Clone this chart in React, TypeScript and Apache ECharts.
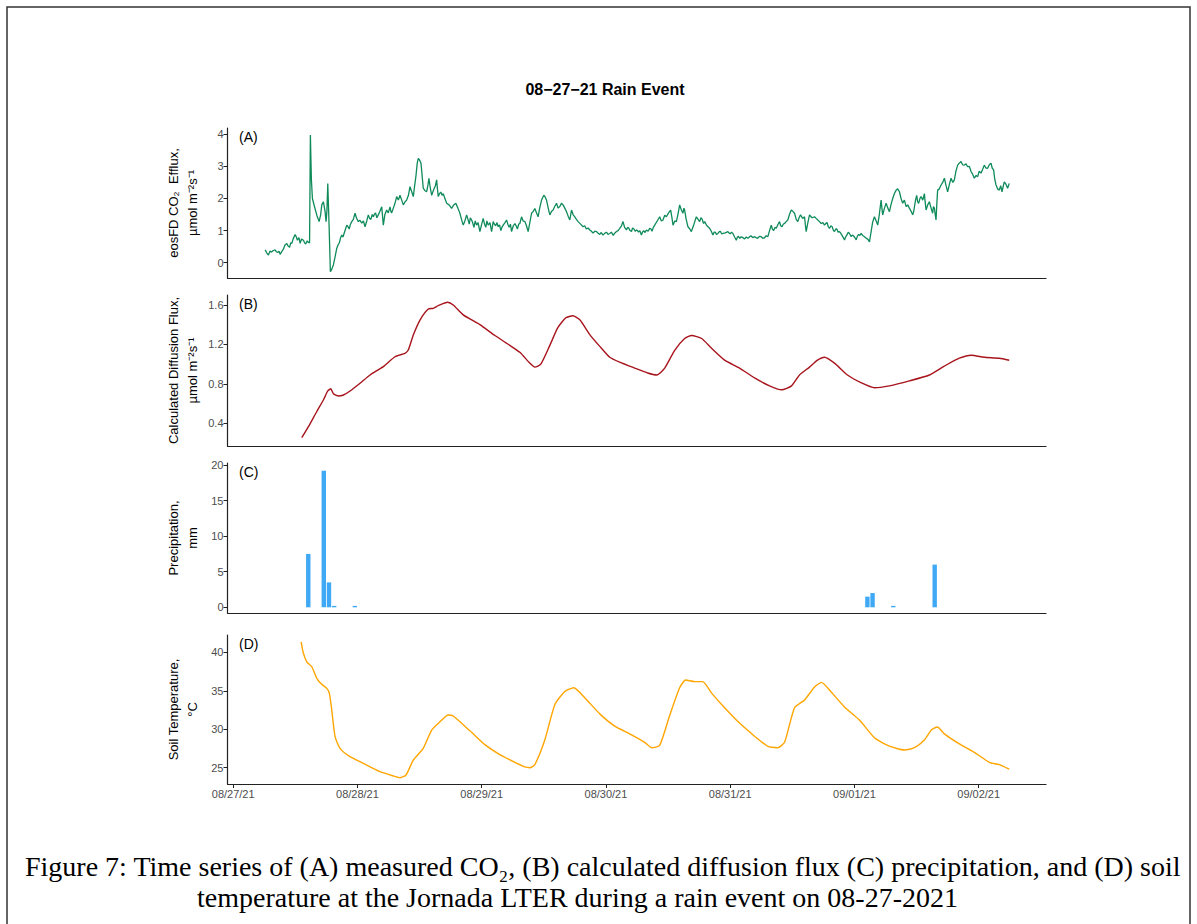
import React, { useEffect, useRef } from "react";
import * as echarts from "echarts";

// Time axis is in hours since 08/27/21 00:00
const dayTicks = [0, 24, 48, 72, 96, 120, 144];
const dayLabels = ["08/27/21", "08/28/21", "08/29/21", "08/30/21", "08/31/21", "09/01/21", "09/02/21"];

// (A) measured eosFD CO2 efflux, µmol m-2 s-1
const co2Efflux: [number, number][] = [
  [6.17, 0.4], [6.5, 0.3], [6.81, 0.24], [7.1, 0.36], [7.4, 0.33], [7.75, 0.38], [8.1, 0.4], [8.35, 0.34], [8.6, 0.32],
  [8.85, 0.36], [9.07, 0.26], [9.4, 0.35], [9.7, 0.42], [10.0, 0.55], [10.36, 0.6], [10.6, 0.52], [10.9, 0.48], [11.1, 0.62],
  [11.32, 0.6], [11.6, 0.75], [11.96, 0.88], [12.2, 0.8], [12.4, 0.7], [12.7, 0.78], [12.93, 0.6], [13.2, 0.74], [13.56, 0.7],
  [13.8, 0.62], [14.0, 0.58], [14.3, 0.68], [14.53, 0.63], [14.75, 0.62], [14.91, 3.98], [15.1, 2.6], [15.3, 2.0], [15.7, 1.75],
  [16.15, 1.48], [16.59, 1.28], [16.9, 1.5], [17.11, 1.8], [17.42, 1.9], [17.75, 1.59], [17.94, 1.28], [18.1, 1.6], [18.27, 2.47],
  [18.52, 1.17], [18.77, -0.28], [19.05, -0.2], [19.35, -0.07], [19.7, 0.2], [20.01, 0.45], [20.25, 0.55], [20.5, 0.62],
  [20.75, 0.78], [20.97, 0.86], [21.2, 0.8], [21.5, 0.95], [21.7, 1.05], [21.94, 1.17], [22.2, 1.12], [22.4, 1.05], [22.65, 1.2],
  [22.9, 1.28], [23.2, 1.35], [23.54, 1.54], [23.8, 1.4], [24.17, 1.28], [24.5, 1.32], [24.83, 1.23], [25.15, 1.3], [25.47, 1.12],
  [25.8, 1.3], [26.1, 1.49], [26.35, 1.38], [26.6, 1.35], [26.85, 1.5], [27.07, 1.43], [27.3, 1.52], [27.5, 1.55], [27.75, 1.4],
  [28.03, 1.49], [28.35, 1.6], [28.69, 1.74], [28.85, 1.45], [29.0, 1.17], [29.3, 1.5], [29.65, 1.64], [29.95, 1.55], [30.29, 1.74],
  [30.45, 1.6], [30.6, 1.55], [30.93, 1.7], [31.25, 1.85], [31.58, 2.06], [31.9, 1.95], [32.22, 2.1], [32.55, 1.95], [32.86, 1.8],
  [33.2, 1.9], [33.51, 1.95], [33.85, 2.1], [34.15, 2.37], [34.5, 2.2], [34.79, 2.06], [35.05, 2.4], [35.3, 2.7], [35.55, 3.1],
  [35.75, 3.25], [36.0, 3.2], [36.27, 3.1], [36.5, 2.7], [36.71, 2.32], [37.0, 2.25], [37.37, 2.21], [37.6, 2.4], [37.81, 2.63],
  [38.05, 2.35], [38.34, 2.1], [38.55, 2.2], [38.8, 2.3], [39.05, 2.4], [39.3, 2.58], [39.45, 2.3], [39.61, 2.06], [39.85, 2.15],
  [40.1, 2.2], [40.35, 2.1], [40.57, 2.15], [40.9, 2.0], [41.23, 1.85], [41.7, 1.8], [42.19, 1.69], [42.6, 1.8], [43.0, 1.85],
  [43.4, 1.7], [43.79, 1.54], [44.1, 1.35], [44.43, 1.17], [44.75, 1.3], [45.09, 1.49], [45.35, 1.35], [45.6, 1.2], [45.8, 1.4],
  [46.05, 1.33], [46.25, 1.25], [46.5, 1.1], [46.75, 1.3], [47.02, 1.17], [47.3, 1.25], [47.65, 0.97], [48.0, 1.2], [48.29, 1.38],
  [48.55, 1.2], [48.8, 1.1], [49.0, 1.3], [49.25, 1.17], [49.6, 1.25], [49.91, 0.97], [50.05, 1.1], [50.22, 1.28], [50.45, 1.2],
  [50.7, 1.15], [50.95, 1.25], [51.18, 1.12], [51.45, 1.18], [51.7, 1.0], [51.9, 1.1], [52.15, 1.17], [52.5, 1.25], [52.8, 1.33],
  [53.05, 1.2], [53.3, 1.1], [53.55, 1.2], [53.77, 0.97], [54.1, 1.15], [54.41, 1.22], [54.65, 1.15], [54.9, 1.05], [55.15, 1.2],
  [55.37, 1.22], [55.7, 1.43], [56.0, 1.3], [56.34, 1.28], [56.65, 1.15], [56.97, 0.97], [57.3, 1.25], [57.63, 1.54], [57.95, 1.6],
  [58.26, 1.69], [58.6, 1.55], [58.9, 1.43], [59.2, 1.7], [59.56, 1.95], [60.0, 2.1], [60.25, 2.05], [60.52, 1.95], [60.85, 1.7],
  [61.16, 1.49], [61.5, 1.6], [61.8, 1.64], [62.1, 1.75], [62.45, 1.85], [62.75, 1.7], [63.09, 1.75], [63.4, 1.85], [63.72, 1.8],
  [64.05, 1.7], [64.38, 1.59], [64.7, 1.45], [65.02, 1.33], [65.35, 1.64], [65.65, 1.5], [65.98, 1.43], [66.3, 1.35], [66.62, 1.28],
  [67.1, 1.2], [67.58, 1.12], [67.9, 1.15], [68.2, 1.05], [68.55, 1.08], [68.88, 1.02], [69.2, 0.98], [69.5, 0.92], [69.85, 0.98],
  [70.17, 0.97], [70.5, 0.92], [70.8, 0.88], [71.1, 0.94], [71.44, 0.86], [71.8, 0.92], [72.1, 0.95], [72.4, 0.88], [72.73, 0.91],
  [73.05, 0.95], [73.4, 0.85], [73.7, 0.92], [74.03, 0.97], [74.35, 1.0], [74.66, 1.07], [75.0, 1.15], [75.3, 1.28], [75.6, 1.1],
  [75.96, 1.02], [76.2, 1.1], [76.4, 1.08], [76.65, 1.0], [76.92, 0.97], [77.15, 1.08], [77.4, 1.05], [77.65, 0.98], [77.89, 1.02],
  [78.1, 1.0], [78.3, 0.95], [78.55, 1.0], [78.85, 0.86], [79.05, 0.95], [79.3, 1.0], [79.55, 0.94], [79.82, 1.02], [80.15, 0.98],
  [80.45, 1.07], [80.7, 1.05], [80.9, 0.98], [81.15, 1.1], [81.42, 1.17], [81.9, 1.3], [82.38, 1.43], [82.7, 1.3], [83.02, 1.33],
  [83.35, 1.48], [83.67, 1.43], [84.1, 1.55], [84.5, 1.64], [84.75, 1.4], [84.95, 1.17], [85.3, 1.3], [85.6, 1.28], [85.9, 1.5],
  [86.24, 1.8], [86.55, 1.65], [86.88, 1.54], [87.05, 1.7], [87.2, 1.64], [87.5, 1.35], [87.84, 1.12], [88.2, 1.05], [88.5, 0.97],
  [89.0, 1.2], [89.46, 1.43], [89.8, 1.35], [90.1, 1.28], [90.35, 1.4], [90.6, 1.35], [90.85, 1.22], [91.06, 1.28], [91.5, 1.15],
  [92.03, 1.07], [92.35, 0.98], [92.66, 0.86], [92.9, 0.95], [93.1, 0.95], [93.35, 0.88], [93.63, 0.91], [93.85, 0.96], [94.1, 0.98],
  [94.35, 0.9], [94.59, 0.91], [95.05, 0.93], [95.56, 0.97], [95.8, 0.92], [96.0, 0.9], [96.25, 0.95], [96.52, 0.91], [96.85, 0.8],
  [97.18, 0.7], [97.4, 0.8], [97.6, 0.82], [97.85, 0.76], [98.14, 0.81], [98.45, 0.78], [98.8, 0.74], [99.1, 0.8], [99.42, 0.76],
  [99.7, 0.8], [100.0, 0.84], [100.35, 0.78], [100.71, 0.81], [101.0, 0.78], [101.3, 0.76], [101.65, 0.82], [102.0, 0.81],
  [102.3, 0.76], [102.6, 0.77], [102.95, 0.84], [103.28, 0.81], [103.6, 1.0], [103.93, 1.17], [104.15, 1.05], [104.4, 1.0],
  [104.65, 1.1], [104.9, 1.07], [105.2, 1.18], [105.53, 1.28], [105.75, 1.15], [106.0, 1.12], [106.25, 1.2], [106.5, 1.22],
  [106.8, 1.28], [107.13, 1.33], [107.45, 1.5], [107.79, 1.64], [108.1, 1.6], [108.43, 1.54], [108.75, 1.35], [109.06, 1.28],
  [109.3, 1.4], [109.58, 1.49], [110.0, 1.38], [110.36, 1.43], [110.5, 1.2], [110.68, 0.97], [111.0, 1.25], [111.32, 1.49],
  [111.8, 1.4], [112.29, 1.43], [112.6, 1.38], [112.92, 1.33], [113.25, 1.28], [113.58, 1.22], [113.9, 1.25], [114.22, 1.17],
  [114.45, 1.22], [114.7, 1.25], [114.95, 1.12], [115.18, 1.07], [115.45, 1.15], [115.7, 1.12], [115.95, 1.0], [116.15, 0.97],
  [116.4, 1.05], [116.6, 1.05], [116.85, 0.95], [117.11, 0.97], [117.35, 0.92], [117.6, 0.85], [117.85, 0.78], [118.08, 0.71],
  [118.3, 0.8], [118.5, 0.85], [118.8, 0.95], [119.04, 0.91], [119.35, 0.82], [119.68, 0.86], [120.0, 0.8], [120.34, 0.71],
  [120.55, 0.82], [120.8, 0.88], [121.05, 0.85], [121.3, 0.91], [121.6, 0.85], [121.93, 0.81], [122.15, 0.78], [122.4, 0.75],
  [122.65, 0.72], [122.9, 0.65], [123.05, 0.8], [123.22, 0.97], [123.5, 1.25], [123.86, 1.43], [124.2, 1.3], [124.5, 1.17],
  [124.8, 1.5], [125.15, 1.95], [125.3, 1.7], [125.46, 1.49], [125.8, 1.7], [126.12, 1.85], [126.45, 1.7], [126.76, 1.59],
  [127.05, 1.8], [127.39, 2.0], [127.7, 2.15], [128.05, 2.26], [128.35, 2.3], [128.69, 2.21], [129.0, 2.0], [129.32, 1.85],
  [129.65, 1.95], [129.98, 1.75], [130.3, 1.8], [130.61, 1.7], [130.95, 1.6], [131.25, 1.49], [131.45, 1.6], [131.6, 1.75],
  [131.8, 1.95], [132.02, 2.1], [132.2, 1.9], [132.4, 1.85], [132.65, 2.0], [132.87, 2.06], [133.2, 1.95], [133.51, 2.15],
  [133.65, 1.9], [133.84, 1.64], [134.15, 1.8], [134.47, 1.9], [134.8, 1.7], [135.11, 1.54], [135.25, 1.75], [135.44, 1.7],
  [135.6, 1.5], [135.76, 1.33], [135.9, 1.8], [136.07, 2.26], [136.4, 2.3], [136.73, 2.42], [137.05, 2.5], [137.37, 2.63],
  [137.7, 2.4], [138.0, 2.21], [138.35, 2.45], [138.66, 2.63], [139.0, 2.5], [139.3, 2.58], [139.6, 2.85], [139.94, 3.04],
  [140.25, 3.1], [140.59, 3.15], [140.9, 3.05], [141.23, 3.04], [141.55, 3.08], [141.86, 2.99], [142.2, 3.0], [142.52, 2.84],
  [142.85, 2.75], [143.16, 2.63], [143.5, 2.72], [143.8, 2.68], [144.1, 2.85], [144.45, 2.79], [144.75, 2.9], [145.08, 3.04],
  [145.4, 2.95], [145.72, 2.94], [146.05, 3.05], [146.38, 3.1], [146.6, 2.95], [146.88, 2.89], [147.1, 2.6], [147.35, 2.42],
  [147.65, 2.3], [147.98, 2.26], [148.25, 2.4], [148.5, 2.21], [148.7, 2.35], [148.94, 2.52], [149.25, 2.45], [149.58, 2.32],
  [149.9, 2.47],
];

// (B) calculated diffusion flux, µmol m-2 s-1
const diffusionFlux: [number, number][] = [
  [13.25, 0.254], [14.53, 0.366], [16.15, 0.52], [17.42, 0.636], [18.27, 0.728], [18.85, 0.75], [19.35, 0.7], [20.32, 0.677],
  [21.28, 0.687], [22.57, 0.728], [24.5, 0.806], [26.43, 0.89], [29.0, 0.975], [31.25, 1.075], [33.18, 1.11], [33.82, 1.143],
  [34.79, 1.295], [36.08, 1.447], [37.68, 1.559], [38.64, 1.566], [39.61, 1.593], [41.42, 1.627], [42.5, 1.6], [44.43, 1.5],
  [47.65, 1.4], [50.55, 1.29], [53.44, 1.19], [55.37, 1.12], [57.3, 1.01], [58.26, 0.97], [59.42, 1.0], [61.16, 1.19],
  [62.7, 1.37], [64.25, 1.47], [65.6, 1.49], [66.95, 1.45], [68.88, 1.3], [70.81, 1.18], [72.73, 1.07], [74.66, 1.02],
  [77.56, 0.96], [80.07, 0.91], [81.8, 0.89], [83.35, 0.96], [85.28, 1.14], [87.2, 1.26], [88.55, 1.29], [90.48, 1.26],
  [92.41, 1.16], [94.92, 1.04], [97.81, 0.96], [100.71, 0.86], [103.6, 0.78], [105.92, 0.74], [107.85, 0.78], [109.39, 0.89],
  [111.32, 0.97], [112.86, 1.04], [114.22, 1.07], [116.15, 1.01], [118.65, 0.89], [121.35, 0.81], [123.86, 0.76], [126.76, 0.78],
  [130.61, 0.83], [134.47, 0.89], [137.37, 0.98], [140.26, 1.06], [142.58, 1.09], [145.08, 1.07], [147.98, 1.06], [149.9, 1.04],
];

// (C) hourly precipitation, mm
const precipHours = [14.5, 17.5, 18.5, 19.5, 23.5, 122.5, 123.5, 127.5, 135.5];
const precipMm = [7.5, 19.2, 3.5, 0.2, 0.2, 1.5, 2.0, 0.2, 6.0];

// (D) soil temperature, °C
const soilTemp: [number, number][] = [
  [13.12, 41.38], [13.56, 39.88], [14.22, 38.78], [15.18, 38.13], [16.15, 36.63], [17.11, 35.84], [18.08, 35.32], [18.58, 34.67],
  [19.04, 32.5], [19.68, 29.03], [20.64, 27.52], [22.57, 26.43], [25.14, 25.57], [28.36, 24.48], [30.93, 23.92], [32.22, 23.7],
  [33.38, 24.05], [34.79, 26.0], [36.71, 27.52], [38.34, 29.9], [39.94, 30.98], [41.54, 31.85], [42.5, 31.72], [45.72, 29.8],
  [48.62, 28.0], [51.51, 26.7], [54.41, 25.7], [56.34, 25.1], [57.3, 25.0], [58.26, 25.4], [60.19, 28.6], [62.12, 33.2],
  [64.05, 34.9], [65.79, 35.4], [67.91, 34.1], [70.81, 32.0], [73.7, 30.4], [76.59, 29.4], [79.49, 28.3], [80.84, 27.6],
  [82.38, 27.9], [84.31, 31.8], [86.24, 35.4], [87.4, 36.4], [89.13, 36.2], [90.68, 36.2], [92.41, 34.7], [94.92, 32.8],
  [97.81, 30.8], [100.71, 29.1], [103.22, 27.8], [105.15, 27.6], [106.5, 28.3], [108.43, 32.8], [110.36, 33.8], [112.29, 35.5],
  [113.64, 36.1], [115.18, 35.1], [118.08, 32.9], [120.97, 31.2], [123.86, 28.9], [126.76, 27.8], [129.66, 27.3], [131.59, 27.6],
  [133.51, 28.6], [134.86, 29.9], [136.02, 30.3], [137.37, 29.4], [140.26, 28.1], [143.16, 27.0], [146.05, 25.7], [147.98, 25.4],
  [149.9, 24.8],
];

const yTicksA = [0, 1, 2, 3, 4];
const yTicksB = [0.4, 0.8, 1.2, 1.6];
const yTicksC = [0, 5, 10, 15, 20];
const yTicksD = [25, 30, 35, 40];

const SANS = '"Liberation Sans", Arial, Helvetica, sans-serif';
const SERIF = '"Liberation Serif", "Times New Roman", serif';
const AXIS_COLOR = "#222";
const TICK_TEXT = "#4d4d4d";

const panels = [
  { top: 128, height: 150, yMin: -0.477, yMax: 4.196, ticks: yTicksA, dec: 0, tag: "(A)", title: "eosFD CO\u2082  Efflux,\n\u00b5mol m\u207b\u00b2s\u207b\u00b9" },
  { top: 295, height: 151, yMin: 0.17, yMax: 1.701, ticks: yTicksB, dec: 1, tag: "(B)", title: "Calculated Diffusion Flux,\n\u00b5mol m\u207b\u00b2s\u207b\u00b9" },
  { top: 463, height: 150, yMin: -0.8, yMax: 20.28, ticks: yTicksC, dec: 0, tag: "(C)", title: "Precipitation,\nmm" },
  { top: 635, height: 149, yMin: 22.88, yMax: 42.26, ticks: yTicksD, dec: 0, tag: "(D)", title: "Soil Temperature,\n\u00b0C" },
];

const GRID_LEFT = 227.5;
const GRID_RIGHT = 151;
const X_MIN = -1.1;
const X_MAX = 157;

export default function App() {
  const ref = useRef<HTMLDivElement | null>(null);

  useEffect(() => {
    if (!ref.current) return;
    const chart = echarts.init(ref.current, null, { renderer: "svg" });

    const grids = panels.map((p) => ({ left: GRID_LEFT, right: GRID_RIGHT, top: p.top, height: p.height }));

    const xAxes = panels.map((p, i) => {
      const last = i === panels.length - 1;
      return {
        type: "value",
        gridIndex: i,
        min: X_MIN,
        max: X_MAX,
        splitLine: { show: false },
        axisLine: { show: true, onZero: false, lineStyle: { color: AXIS_COLOR, width: 1.2 } },
        axisTick: { show: last, customValues: dayTicks, length: 4, lineStyle: { color: AXIS_COLOR, width: 1 } },
        axisLabel: {
          show: last,
          customValues: dayTicks,
          margin: 4,
          color: TICK_TEXT,
          fontSize: 11,
          fontFamily: SANS,
          formatter: (v: number) => dayLabels[dayTicks.indexOf(Math.round(v))] ?? "",
        },
      };
    });

    const yAxes = panels.map((p, i) => ({
      type: "value",
      gridIndex: i,
      min: p.yMin,
      max: p.yMax,
      splitLine: { show: false },
      axisLine: { show: true, onZero: false, lineStyle: { color: AXIS_COLOR, width: 1.2 } },
      axisTick: { show: true, customValues: p.ticks, length: 4, lineStyle: { color: AXIS_COLOR, width: 1 } },
      axisLabel: {
        customValues: p.ticks,
        margin: 4,
        color: TICK_TEXT,
        fontSize: 11,
        fontFamily: SANS,
        formatter: (v: number) => v.toFixed(p.dec),
      },
    }));

    const graphics: any[] = [
      {
        type: "rect",
        shape: { x: 7, y: 7, width: 1183, height: 940 },
        style: { fill: "none", stroke: "#333", lineWidth: 1.5 },
        silent: true,
      },
      {
        type: "text",
        x: 605,
        y: 89,
        style: {
          text: "08\u221227\u221221 Rain Event",
          textAlign: "center",
          textVerticalAlign: "middle",
          fontSize: 16,
          fontWeight: "bold",
          fontFamily: SANS,
          fill: "#000",
        },
      },
      {
        type: "text",
        x: 25,
        y: 866,
        style: {
          text: "Figure 7: Time series of (A) measured CO\u2082, (B) calculated diffusion flux (C) precipitation, and (D) soil",
          textAlign: "left",
          textVerticalAlign: "middle",
          fontSize: 28,
          fontFamily: SERIF,
          fill: "#000",
        },
      },
      {
        type: "text",
        x: 197,
        y: 897,
        style: {
          text: "temperature at the Jornada LTER during a rain event on 08-27-2021",
          textAlign: "left",
          textVerticalAlign: "middle",
          fontSize: 28,
          fontFamily: SERIF,
          fill: "#000",
        },
      },
    ];

    panels.forEach((p) => {
      graphics.push({
        type: "text",
        x: 183,
        y: p.top + p.height / 2,
        rotation: Math.PI / 2,
        style: {
          text: p.title,
          textAlign: "center",
          textVerticalAlign: "middle",
          fontSize: 13,
          lineHeight: 19,
          fontFamily: SANS,
          fill: "#000",
        },
      });
      graphics.push({
        type: "text",
        x: 239,
        y: p.top + 9,
        style: {
          text: p.tag,
          textAlign: "left",
          textVerticalAlign: "middle",
          fontSize: 14,
          fontFamily: SANS,
          fill: "#000",
        },
      });
    });

    chart.setOption({
      animation: false,
      backgroundColor: "#fff",
      grid: grids,
      xAxis: xAxes,
      yAxis: yAxes,
      graphic: graphics,
      series: [
        {
          type: "line",
          xAxisIndex: 0,
          yAxisIndex: 0,
          data: co2Efflux,
          showSymbol: false,
          lineStyle: { color: "#0f8a5a", width: 1.3 },
        },
        {
          type: "line",
          xAxisIndex: 1,
          yAxisIndex: 1,
          data: diffusionFlux,
          showSymbol: false,
          smooth: 0.2,
          lineStyle: { color: "#a8141c", width: 1.4 },
        },
        {
          type: "bar",
          xAxisIndex: 2,
          yAxisIndex: 2,
          data: precipHours.map((h, i) => [h, precipMm[i]]),
          barWidth: 4.4,
          itemStyle: { color: "#3fa9f5" },
        },
        {
          type: "line",
          xAxisIndex: 3,
          yAxisIndex: 3,
          data: soilTemp,
          showSymbol: false,
          smooth: 0.2,
          lineStyle: { color: "#ffa500", width: 1.4 },
        },
      ],
    });

    return () => chart.dispose();
  }, []);

  return (
    <div
      ref={ref}
      style={{ position: "fixed", left: 0, top: 0, width: 1197, height: 924, background: "#fff" }}
    />
  );
}
